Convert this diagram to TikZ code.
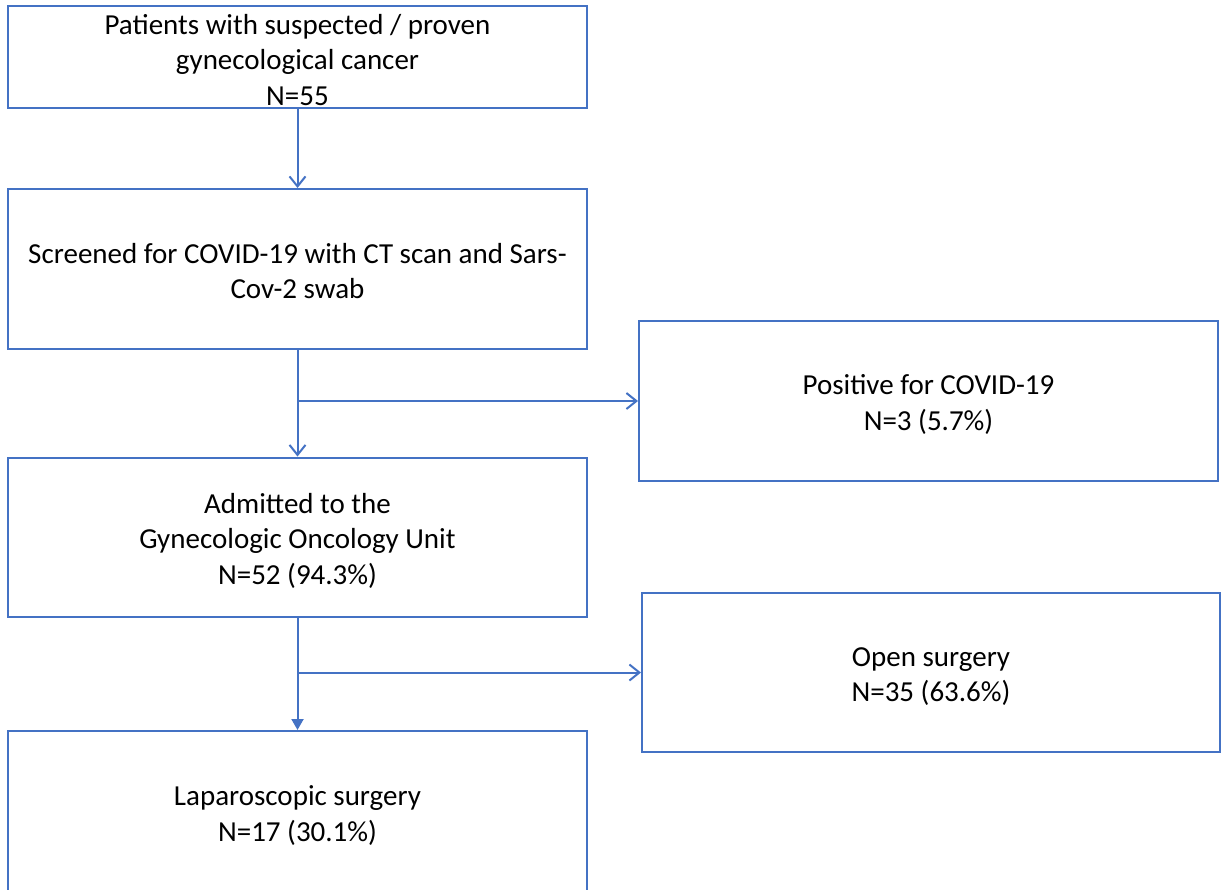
\documentclass[tikz,border=0pt]{standalone}
\usepackage{fontspec}
\setmainfont{Carlito}
\usetikzlibrary{arrows.meta}
\definecolor{boxblue}{RGB}{68,114,196}
\tikzset{
  flowbox/.style={draw=boxblue, line width=2pt, rectangle, minimum width=579pt, inner sep=0pt},
  boxtext/.style={align=center, inner sep=0pt, font=\fontsize{29}{35.5}\selectfont, text=black},
  arr/.style={draw=boxblue, line width=2pt, -{Straight Barb[length=10pt,width=16pt,line width=2pt]}},
  arrfill/.style={draw=boxblue, line width=2pt, -{Triangle[length=11pt,width=12pt]}}
}
\begin{document}
\begin{tikzpicture}[x=1pt,y=-1pt]
\useasboundingbox (0,0) rectangle (1222,889);
\clip (0,0) rectangle (1222,889);
\node[flowbox, minimum height=102pt] (b1) at (297.5,57) {};
\node[flowbox, minimum height=160pt] (b2) at (297.5,269) {};
\node[flowbox, minimum height=160pt] (b3) at (928.5,401) {};
\node[flowbox, minimum height=159pt] (b4) at (297.5,537) {};
\node[flowbox, minimum width=578pt, minimum height=159pt] (b5) at (931,672.5) {};
\node[flowbox, minimum height=166pt] (b6) at (297.5,814) {};
\node[boxtext] (t1) at ([yshift=-3pt]b1.center) {Patients with suspected / proven\\gynecological cancer\\N=55};
\node[boxtext] (t2) at ([yshift=-2pt]b2.center) {Screened for COVID-19 with CT scan and Sars-\\Cov-2 swab};
\node[boxtext] (t3) at ([yshift=-3.5pt]b3.center) {Positive for COVID-19\\N=3 (5.7\%)};
\node[boxtext] (t4) at ([yshift=-3.5pt]b4.center) {Admitted to the\\Gynecologic Oncology Unit\\N=52 (94.3\%)};
\node[boxtext] (t5) at ([yshift=-4pt]b5.center) {Open surgery\\N=35 (63.6\%)};
\node[boxtext] (t6) at ([yshift=-1.5pt]b6.center) {Laparoscopic surgery\\N=17 (30.1\%)};
\coordinate (j1) at (297.5,401);
\coordinate (j2) at (297.5,672.5);
\draw[arr] (b1.south) -- (b2.north);
\draw[arr] (b2.south) -- (b4.north);
\draw[arr] (j1) -- (b3.west);
\draw[arrfill] (b4.south) -- (b6.north);
\draw[arr] (j2) -- (b5.west);
\end{tikzpicture}
\end{document}
